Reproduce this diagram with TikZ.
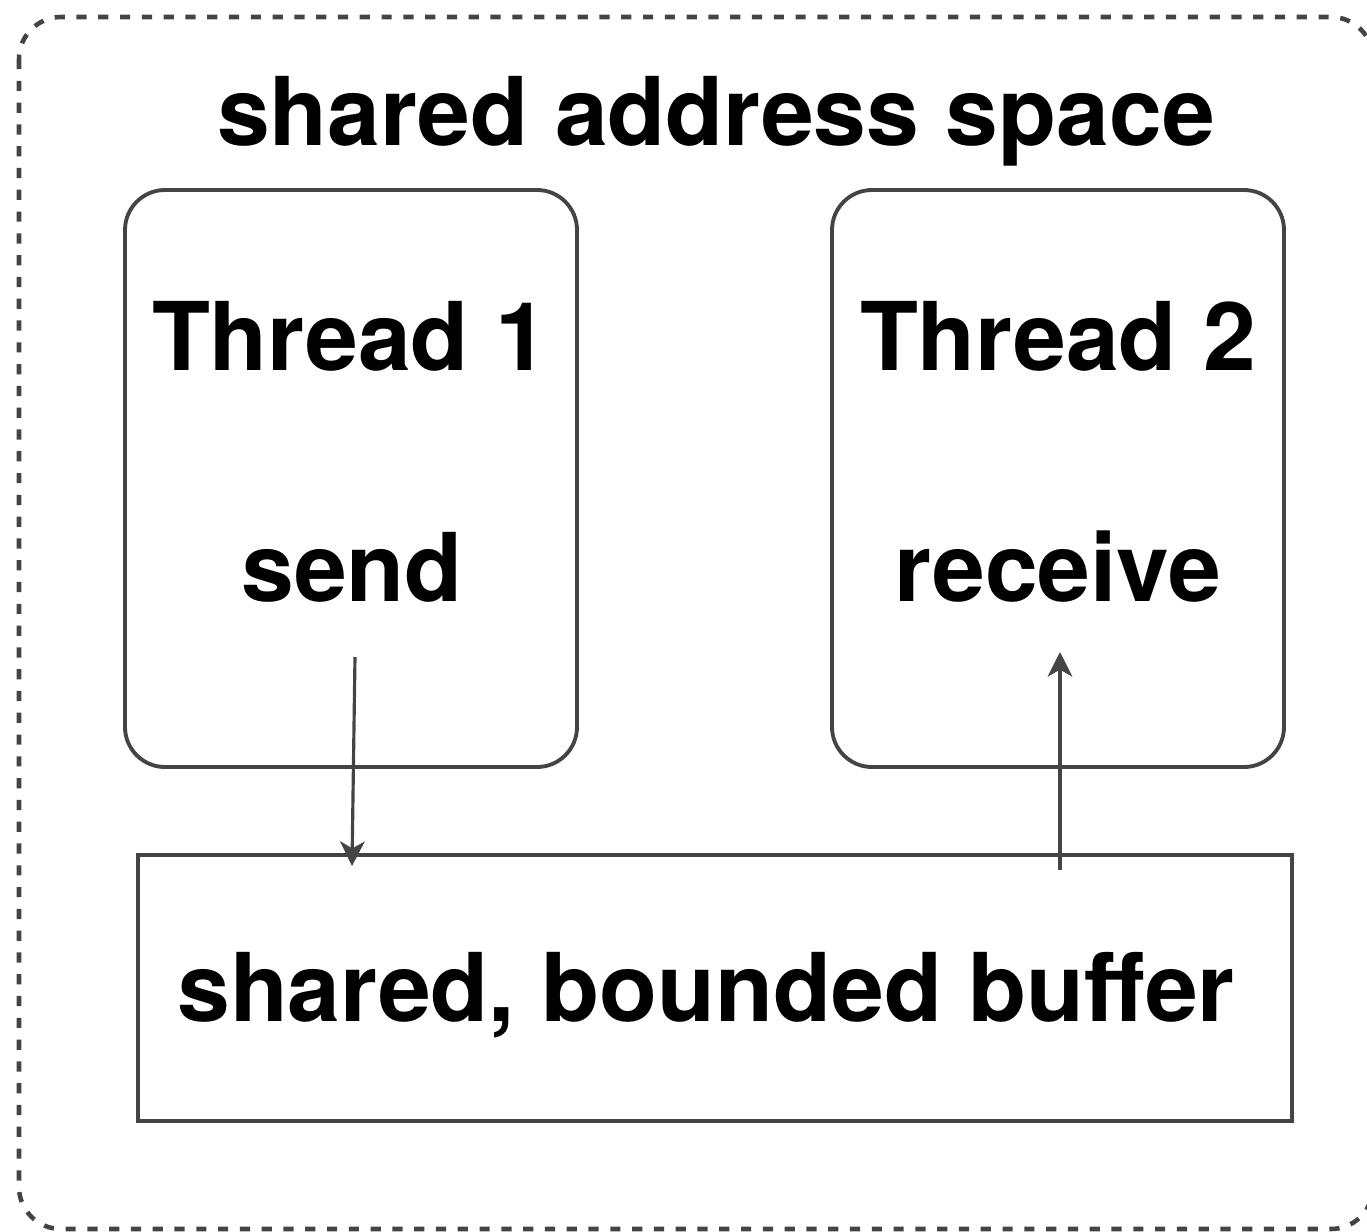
\documentclass[tikz,border=0pt]{standalone}
\usepackage{fontspec}
\setmainfont{TeX Gyre Heros}
\usetikzlibrary{arrows.meta}

\definecolor{boxgray}{RGB}{68,68,68}

\begin{document}
\begin{tikzpicture}[
    x=1cm, y=1cm,
    lbl/.style={anchor=center, inner sep=0pt, text=black,
      font=\fontsize{27}{30}\selectfont\bfseries},
    thrbox/.style={draw=boxgray, line width=1.1pt, rounded corners=0.4cm,
      minimum width=4.52cm, minimum height=5.77cm, inner sep=0pt},
    bufbox/.style={draw=boxgray, line width=1.1pt,
      minimum width=11.54cm, minimum height=2.66cm, inner sep=0pt},
    flow/.style={draw=boxgray, line width=0.9pt,
      -{Stealth[length=7pt, width=7pt, inset=2pt]}}
  ]

  \useasboundingbox (0,0) rectangle (13.67,-12.32);
  \clip (0,0) rectangle (13.67,-12.32);

  % address space frame, runs off the page on the right and bottom
  \draw[boxgray, line width=1.3pt, dash pattern=on 2.9pt off 3.3pt,
    rounded corners=0.42cm] (0.19,-0.17) rectangle (13.73,-12.29);
  \node[lbl] (space) at (7.16,-1.21) {shared address space};

  % the two threads
  \node[thrbox] (thr1) at (3.51,-4.785) {};
  \node[thrbox] (thr2) at (10.58,-4.785) {};
  \node[lbl] (thr1name) at (3.50,-3.36) {Thread 1};
  \node[lbl] (thr2name) at (10.58,-3.36) {Thread 2};
  \node[lbl] (send) at (3.52,-5.67) {send};
  \node[lbl] (recv) at (10.58,-5.67) {receive};

  % the buffer between them
  \node[bufbox] (buf) at (7.15,-9.88) {};
  \node[lbl] (bufname) at (7.06,-9.95) {shared, bounded buffer};

  % send puts into the buffer, receive takes out of it
  \coordinate (sendfrom) at (3.55,-6.57);
  \coordinate (sendto) at (3.52,-8.66);
  \coordinate (recvfrom) at (10.60,-8.70);
  \coordinate (recvto) at (10.60,-6.52);
  \draw[flow] (sendfrom) -- (sendto);
  \draw[flow] (recvfrom) -- (recvto);

\end{tikzpicture}
\end{document}
